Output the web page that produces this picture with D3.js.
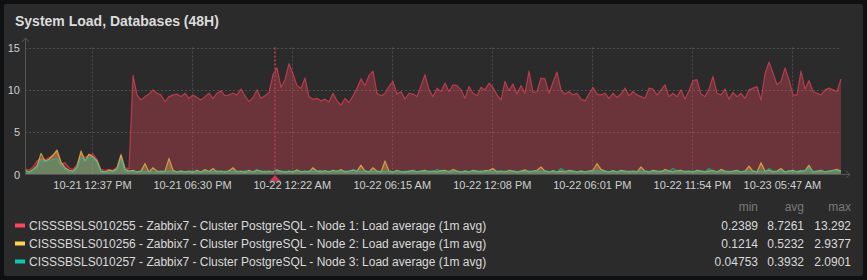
<!DOCTYPE html>
<html>
<head>
<meta charset="utf-8">
<script src="https://cdn.jsdelivr.net/npm/d3@7"></script>
<style>
  body { margin: 0; background: #0e1012; }
  svg { display: block; font-family: Arial, "Liberation Sans", sans-serif; }
</style>
</head>
<body>
<svg id="chart" width="867" height="280"></svg>
<script>
// 48h window, one sample every ~14 minutes
var startTime = new Date('2024-10-21T08:40:30');
var endTime = new Date('2024-10-23T08:40:30');
var eventTime = new Date('2024-10-21T23:22:00');

var seriesNames = [
  'CISSSBSLS010255 - Zabbix7 - Cluster PostgreSQL - Node 1: Load average (1m avg)',
  'CISSSBSLS010256 - Zabbix7 - Cluster PostgreSQL - Node 2: Load average (1m avg)',
  'CISSSBSLS010257 - Zabbix7 - Cluster PostgreSQL - Node 3: Load average (1m avg)'
];
var seriesColors = ['#ff465c', '#ffd54f', '#0ec9ac'];
var statMin = ['0.2389', '0.1214', '0.04753'];
var statAvg = ['8.7261', '0.5232', '0.3932'];
var statMax = ['13.292', '2.9377', '2.0901'];

var yTicks = [0, 5, 10, 15];
var xTicks = ['2024-10-21T12:37', '2024-10-21T18:30', '2024-10-22T00:22', '2024-10-22T06:15',
              '2024-10-22T12:08', '2024-10-22T18:01', '2024-10-22T23:54', '2024-10-23T05:47'];

var node1 = [
  0.7,0.5,0.9,1.6,1.9,1.7,2.0,2.2,2.7,1.2, 1.4,0.8,0.6,1.2,2.5,2.0,2.3,2.4,1.8,0.6,
  0.5,0.6,0.5,0.9,2.4,0.8,0.7,11.7,9.4,8.8, 9.2,9.5,10.0,9.6,9.4,8.6,9.2,9.4,9.5,9.2,
  9.6,9.0,9.4,9.1,8.8,9.2,9.6,9.0,9.6,9.9, 9.3,9.4,9.6,9.4,10.1,9.3,8.6,9.1,10.0,9.0,
  9.3,9.7,11.8,12.6,10.3,11.2,13.1,11.9,10.5,10.2, 11.4,9.2,8.9,9.0,8.7,8.9,8.6,9.6,8.7,8.2,
  9.0,8.5,9.3,10.2,11.3,10.5,11.7,12.2,9.6,9.3, 9.6,10.4,11.0,9.5,9.8,8.9,9.6,9.5,9.2,10.5,
  11.8,10.0,9.2,10.2,9.8,10.8,9.8,10.6,10.5,10.0, 9.0,10.4,9.6,9.3,10.3,10.0,10.8,10.3,9.4,8.8,
  11.0,9.9,10.7,9.5,10.5,9.6,12.2,9.7,9.8,11.4, 11.3,9.6,10.9,12.1,10.0,9.5,9.8,9.4,9.6,8.9,
  8.7,9.5,10.3,9.5,9.4,9.6,9.0,9.6,9.1,9.5, 10.2,9.3,9.8,9.4,9.2,9.0,10.2,10.1,9.4,10.0,
  10.6,9.2,9.6,9.2,10.0,8.9,9.9,11.1,11.2,9.5, 9.2,10.1,11.6,9.6,9.4,10.1,8.9,9.7,9.2,9.6,
  9.0,10.0,10.2,10.4,8.8,11.9,13.3,12.0,10.6,11.0, 12.6,11.2,9.4,9.4,12.2,10.1,11.1,9.8,9.6,9.4,
  10.0,10.2,10.0,9.8,11.3
];
var node2 = [
  0.5,0.3,0.6,1.0,2.5,1.6,1.8,2.3,2.9,1.5, 0.8,0.5,0.4,0.9,2.8,1.6,2.4,2.1,1.6,0.4,
  0.3,0.5,0.4,0.7,2.3,0.6,0.4,0.5,0.3,0.4, 1.3,0.3,0.8,0.4,0.3,0.4,1.9,0.5,0.3,0.4,
  0.3,0.4,0.25,0.5,0.3,0.6,0.35,0.7,0.3,0.4, 0.3,0.45,0.8,0.3,0.4,0.25,0.5,0.3,0.5,0.4,
  0.3,0.4,0.3,0.5,0.4,0.28,0.4,0.3,0.55,0.3, 0.4,0.3,0.8,0.4,0.3,0.45,0.3,0.5,0.35,0.6,
  0.3,0.4,0.5,0.4,1.1,0.4,0.3,0.8,0.4,0.3, 1.6,0.4,0.3,0.5,0.35,0.3,0.4,0.5,0.3,0.4,
  0.5,0.3,0.4,0.3,0.45,0.5,0.3,0.6,0.4,0.3, 0.4,0.3,0.5,0.4,0.3,0.45,0.5,0.7,0.3,0.4,
  0.3,0.5,0.4,0.3,0.4,0.55,0.3,0.4,0.5,0.9, 0.4,0.3,0.45,0.3,0.4,0.3,0.5,0.4,0.3,0.4,
  0.3,0.4,0.5,1.3,0.6,0.4,0.3,0.45,0.3,0.5, 0.4,0.3,0.4,0.3,0.9,0.4,0.3,0.5,0.4,0.3,
  0.6,0.4,0.3,0.45,0.5,0.3,0.4,0.3,0.5,0.4, 0.3,0.4,0.5,0.3,0.6,0.4,0.3,0.4,0.5,0.3,
  0.4,1.0,0.4,0.3,1.4,0.4,0.5,0.3,0.4,0.7, 0.3,0.4,0.5,0.3,0.4,0.45,1.1,0.3,0.4,0.5,
  0.3,0.4,0.5,0.6,0.4
];
var node3 = [
  0.6,0.2,0.5,0.8,1.7,1.5,1.6,1.8,1.9,1.1, 0.6,0.3,0.3,0.7,2.0,1.7,2.0,2.0,1.4,0.3,
  0.2,0.3,0.3,0.5,1.9,0.4,0.3,0.4,0.3,0.42, 0.32,0.38,0.3,0.28,0.45,0.3,0.4,0.33,0.3,0.44,
  0.3,0.35,0.42,0.3,0.28,0.4,0.34,0.3,0.45,0.32, 0.4,0.3,0.36,0.42,0.3,0.45,0.3,0.35,0.6,0.3,
  0.42,0.3,0.38,0.6,0.32,0.4,0.3,0.44,0.33,0.4, 0.3,0.42,0.34,0.4,0.5,0.3,0.4,0.32,0.45,0.3,
  0.42,0.33,0.6,0.4,0.3,0.45,0.32,0.4,0.3,0.42, 0.34,0.4,0.3,0.44,0.32,0.4,0.3,0.45,0.33,0.4,
  0.3,0.42,0.33,0.6,0.4,0.3,0.44,0.32,0.4,0.3, 0.42,0.34,0.4,0.3,0.45,0.32,0.4,0.3,0.42,0.33,
  0.4,0.3,0.44,0.32,0.4,0.3,0.42,0.34,0.4,0.3, 0.45,0.32,0.4,0.3,0.7,0.42,0.33,0.4,0.3,0.44,
  0.32,0.4,0.3,0.45,0.33,0.4,0.3,0.42,0.34,0.4, 0.3,0.44,0.32,0.4,0.3,0.42,0.33,0.4,0.3,0.45,
  0.32,0.4,0.7,0.42,0.3,0.44,0.33,0.4,0.3,0.42, 0.34,0.7,0.4,0.3,0.45,0.32,0.4,0.3,0.42,0.33,
  0.4,0.3,0.44,0.32,0.4,0.3,0.7,0.42,0.33,0.4, 0.3,0.45,0.32,0.4,0.5,0.42,0.8,0.4,0.3,0.44,
  0.33,0.4,0.5,0.42,0.35
];

var svg = d3.select('#chart');

// widget panel
svg.append('rect').attr('x', 4).attr('y', 4).attr('width', 859).attr('height', 272)
  .attr('rx', 2).attr('fill', '#2b2b2b');

svg.append('text').attr('x', 15).attr('y', 26)
  .attr('fill', '#dcdcdc').attr('font-size', 14).attr('font-weight', 'bold')
  .text('System Load, Databases (48H)');

var x = d3.scaleTime().domain([startTime, endTime]).range([25, 841]);
var y = d3.scaleLinear().domain([0, 15]).range([174.5, 47.5]);

var step = (endTime - startTime) / (node1.length - 1);
function toPoints(values) {
  return values.map(function(v, i) { return {t: new Date(+startTime + i * step), v: v}; });
}
var series = [node1, node2, node3].map(toPoints);

// grid
var g = svg.append('g');
g.selectAll('.hgrid').data(yTicks.slice(1)).enter().append('line')
  .attr('x1', 25).attr('x2', 841)
  .attr('y1', function(d) { return Math.round(y(d)) + 0.5; })
  .attr('y2', function(d) { return Math.round(y(d)) + 0.5; })
  .attr('stroke', '#4e4e4e').attr('stroke-dasharray', '2,2');
var tickDates = xTicks.map(function(s) { return new Date(s); });
g.selectAll('.vgrid').data(tickDates).enter().append('line')
  .attr('x1', function(d) { return Math.round(x(d)) + 0.5; })
  .attr('x2', function(d) { return Math.round(x(d)) + 0.5; })
  .attr('y1', 47.5).attr('y2', 174.5)
  .attr('stroke', '#4e4e4e').attr('stroke-dasharray', '2,2');

// series
var area = d3.area()
  .x(function(d) { return x(d.t); })
  .y0(y(0))
  .y1(function(d) { return y(d.v); });
var line = d3.line()
  .x(function(d) { return x(d.t); })
  .y(function(d) { return y(d.v); });

series.forEach(function(pts, i) {
  g.append('path').datum(pts).attr('d', area)
    .attr('fill', seriesColors[i]).attr('fill-opacity', 0.3);
  g.append('path').datum(pts).attr('d', line)
    .attr('fill', 'none').attr('stroke', seriesColors[i])
    .attr('stroke-opacity', 0.6).attr('stroke-width', 1.2)
    .attr('stroke-linejoin', 'round');
});

// problem marker
var ex = Math.round(x(eventTime));
g.append('line').attr('x1', ex).attr('x2', ex).attr('y1', 47.5).attr('y2', 174)
  .attr('stroke', '#a8384a').attr('stroke-width', 2).attr('stroke-dasharray', '2,2');
g.append('path').attr('d', 'M' + (ex - 6) + ',181.5L' + (ex + 6) + ',181.5L' + ex + ',175Z')
  .attr('fill', '#c43b50');

// axes lines with arrows
svg.append('path').attr('d', 'M25.5,175V38M22,42L25.5,38L29,42')
  .attr('fill', 'none').attr('stroke', '#555');
svg.append('path').attr('d', 'M25,174.5H850M846,171L850,174.5L846,178')
  .attr('fill', 'none').attr('stroke', '#555');

var yAxis = svg.append('g').attr('transform', 'translate(20,0)')
  .call(d3.axisLeft(y).tickValues(yTicks).tickSize(0).tickPadding(0));
var fmt = d3.timeFormat('%m-%d %I:%M %p');
var xAxis = svg.append('g').attr('transform', 'translate(0,181)')
  .call(d3.axisBottom(x).tickValues(tickDates).tickFormat(fmt).tickSize(0).tickPadding(0));
[yAxis, xAxis].forEach(function(a) {
  a.select('.domain').remove();
  a.selectAll('text').attr('fill', '#cfcfcf').attr('font-size', 11)
    .attr('font-family', 'Arial, "Liberation Sans", sans-serif');
});
xAxis.selectAll('.tick').filter(function(d, i) { return i === tickDates.length - 1; })
  .select('text').attr('dx', -10);

// legend
var leg = svg.append('g');
leg.selectAll('.hdr').data(['min', 'avg', 'max']).enter().append('text')
  .attr('x', function(d, i) { return [758, 804, 851][i]; })
  .attr('y', 211).attr('text-anchor', 'end')
  .attr('fill', '#7a7a7a').attr('font-size', 12).text(function(d) { return d; });

seriesNames.forEach(function(name, i) {
  var cy = 225.5 + i * 18;
  leg.append('rect').attr('x', 15).attr('y', cy - 2).attr('width', 10).attr('height', 4)
    .attr('fill', seriesColors[i]);
  leg.append('text').attr('x', 29).attr('y', cy + 4.3)
    .attr('fill', '#dadada').attr('font-size', 12).text(name);
  [statMin[i], statAvg[i], statMax[i]].forEach(function(s, j) {
    leg.append('text').attr('x', [758, 804, 851][j]).attr('y', cy + 4.3)
      .attr('text-anchor', 'end').attr('fill', '#dadada').attr('font-size', 12).text(s);
  });
});
</script>
</body>
</html>
